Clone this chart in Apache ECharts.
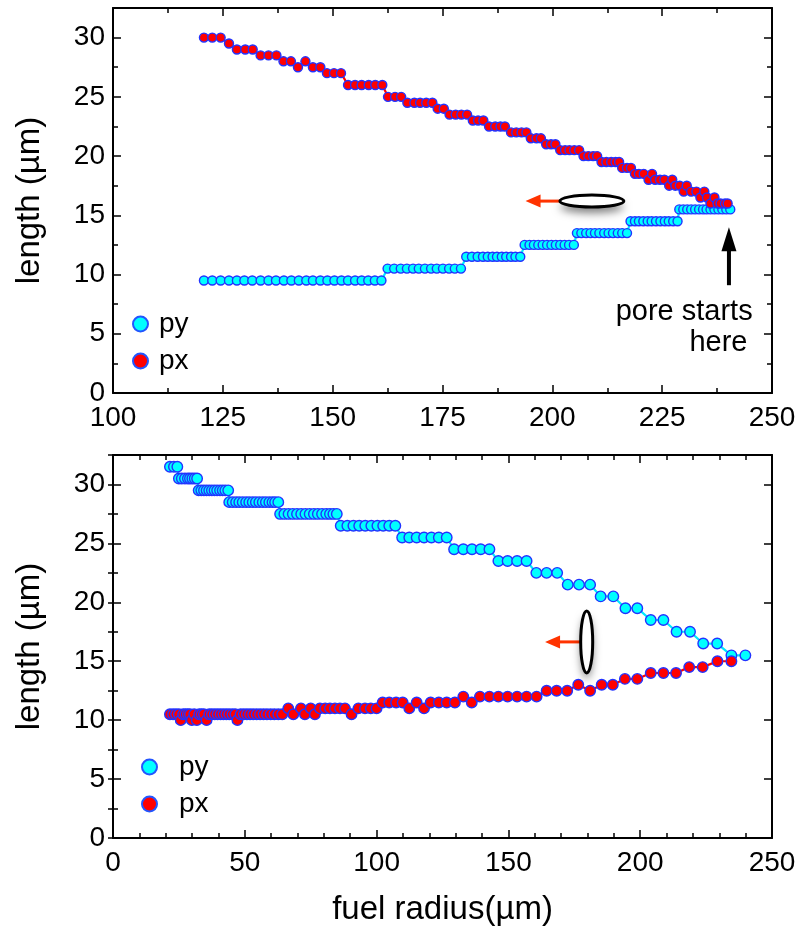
<!DOCTYPE html>
<html>
<head>
<meta charset="utf-8">
<script src="https://cdn.jsdelivr.net/npm/echarts@6/dist/echarts.min.js"></script>
<style>
html,body{margin:0;padding:0;background:#fff;}
#chart{width:801px;height:932px;}
</style>
</head>
<body>
<div id="chart"></div>
<script>
// ---------- DATA ----------
// Top panel: px series (x = fuel radius, y = length)
const topPxX = [120.7,122.6,124.5,126.4,128.2,130.1,131.8,133.6,135.4,137.2,138.8,140.5,142.1,143.8,145.5,147.2,148.7,150.3,151.9,153.5,155.1,156.6,158.2,159.7,161.3,162.6,164.2,165.6,167.0,168.6,169.9,171.3,172.7,173.9,175.3,176.6,178.0,179.3,180.6,181.9,183.1,184.3,185.6,187.0,188.2,189.2,190.6,191.8,193.0,194.1,195.1,196.4,197.4,198.6,199.7,200.7,201.8,202.9,203.9,205.0,206.1,207.1,208.2,209.3,210.2,211.2,212.3,213.4,214.4,215.2,215.9,217.0,217.9,218.8,219.7,220.8,221.9,222.7,223.4,224.5,225.5,226.6,227.3,228.0,229.0,229.9,230.6,231.6,232.8,233.7,234.6,235.2,236.0,236.9,237.6,238.3,239.3,239.9];
const topPxY = [30,30,30,29.5,29,29,29,28.5,28.5,28.5,28,28,27.5,28,27.5,27.5,27,27,27,26,26,26,26,26,26,25,25,25,24.5,24.5,24.5,24.5,24.5,24,24,23.5,23.5,23.5,23.5,23,23,23,22.5,22.5,22.5,22.5,22,22,22,22,21.5,21.5,21.5,21,21,21,20.5,20.5,20.5,20.5,20.5,20,20,20,20,19.5,19.5,19.5,19.5,19.5,19,19,19,18.5,18.5,18.5,18,18.5,18,18,18,17.5,18,17.5,17.5,17,17.5,17,17,16.5,17,16.5,16,16.5,16,16,16,16];

// Top panel: py series, one row of x values per length level
const topPyLevels = [9.5,10.5,11.5,12.5,13.5,14.5,15.5];
const topPyRows = [
  [120.7,122.6,124.5,126.4,128.2,129.9,131.7,133.6,135.4,137.1,138.9,140.6,142.3,144.0,145.5,147.2,148.8,150.4,152.0,153.5,155.1,156.6,158.1,159.6,161.1],
  [162.5,164.0,165.5,166.9,168.3,169.6,171.0,172.4,173.7,175.1,176.5,177.8,179.2],
  [180.4,181.7,183.0,184.2,185.3,186.4,187.4,188.5,189.5,190.6,191.6,192.7],
  [193.7,194.8,195.8,196.8,197.8,198.8,199.8,200.8,201.8,202.8,203.8,204.9],
  [205.6,206.6,207.7,208.7,209.7,210.7,211.8,212.8,213.8,214.9,215.9,217.0],
  [217.8,218.8,219.7,220.7,221.7,222.6,223.6,224.6,225.6,226.5,227.5,228.5],
  [228.9,229.8,230.7,231.6,232.5,233.4,234.3,235.1,236.0,236.9,237.8,238.7,239.6,240.5]
];

// Bottom panel: py series
const botPyLevels = [31.5,30.5,29.5,28.5,27.5,26.5,25.5,24.5,23.5,22.5,21.5,20.5,19.5,18.5,17.5,16.5,15.5];
const botPyRows = [
  [21.6,23.1,24.4],
  [25.0,26.1,27.3,28.4,29.2,30.1,31.0,31.9],
  [32.5,33.5,34.5,35.5,36.5,37.5,38.5,39.5,40.6,41.6,42.6,43.7],
  [44.1,45.4,46.7,47.9,49.2,50.5,51.7,53.0,54.2,55.5,56.8,58.0,59.3,60.5,61.5,62.7],
  [63.4,65.0,66.6,68.2,69.8,71.4,73.0,74.6,76.2,77.7,79.3,80.9,82.3,83.6,84.9],
  [86.4,88.9,91.2,93.4,95.7,98.0,100.3,102.5,104.8,107.1],
  [109.7,112.4,115.2,118.0,120.8,123.6,126.6],
  [129.4,132.9,136.2,139.5,142.8],
  [146.2,149.7,153.3,156.9],
  [160.6,164.5,168.5],
  [172.5,176.8,181.0],
  [185.0,189.8],
  [194.4,198.9],
  [204.0,208.8],
  [213.8,218.9],
  [223.9,229.2],
  [234.6,239.9]
];

// Bottom panel: px series
const botPxX = [21.6,22.8,23.9,25.0,25.7,26.6,27.5,28.4,29.2,29.9,30.8,31.8,32.7,33.6,34.5,35.5,36.5,37.5,38.6,39.7,40.8,41.9,43.0,44.1,45.3,46.4,47.2,48.4,49.6,50.8,52.0,53.2,54.5,55.8,57.1,58.4,59.8,61.2,62.7,64.2,66.5,68.4,71.3,72.8,75.0,76.6,78.5,80.5,82.3,84.2,86.1,88.0,90.5,93.1,95.6,97.8,100.0,102.3,104.8,107.4,109.9,112.4,115.2,118.0,120.5,123.6,126.6,129.7,132.9,136.1,139.2,142.8,146.2,149.7,153.3,156.9,160.7,164.5,168.3,172.3,176.5,181.0,185.4,189.6,194.2,198.9,204.0,208.8,213.6,218.6,223.7,229.3,234.6];
const botPxY = [10.5,10.5,10.5,10.5,10,10.5,10.5,10.5,10.5,10,10.5,10,10.5,10.5,10.5,10,10.5,10.5,10.5,10.5,10.5,10.5,10.5,10.5,10.5,10.5,10,10.5,10.5,10.5,10.5,10.5,10.5,10.5,10.5,10.5,10.5,10.5,10.5,10.5,11,10.5,11,10.5,11,10.5,11,11,11,11,11,11,10.5,11,11,11,11,11.5,11.5,11.5,11.5,11,11.5,11,11.5,11.5,11.5,11.5,12,11.5,12,12,12,12,12,12,12,12.5,12.5,12.5,13,12.5,13,13,13.5,13.5,14,14,14,14.5,14.5,15,15];

// Axis ranges / tick settings
const topXRange = [100, 250], topXInterval = 25;
const botXRange = [0, 250], botXInterval = 50;
const yRange = [0, 32.5], yInterval = 5;

// Annotation anchors (data coordinates)
const topEllipse = [209.0, 16.2];
const topArrow = {from: [201.8, 16.2], to: [193.9, 16.2]};
const poreArrow = {from: [240.2, 9.1], to: [240.2, 14.0]};
const poreText = [{t: 'pore starts', at: [230.0, 6.82]}, {t: 'here', at: [237.8, 4.21]}];
const botEllipse = [179.7, 16.64];
const botArrow = {from: [177.2, 16.64], to: [163.9, 16.64]};

// ---------- CHART ----------
const FONT = '"Liberation Sans", Arial, Helvetica, sans-serif';
const BLACK = '#000';
const chart = echarts.init(document.getElementById('chart'), null, {renderer: 'canvas'});

function rowsToData(levels, rows) {
  const out = [];
  rows.forEach((r, i) => r.forEach(x => out.push([x, levels[i]])));
  return out;
}
function zipData(xs, ys) { return xs.map((x, i) => [x, ys[i]]); }

function xAxes(gi, range, interval, minorSplit, name) {
  const common = {
    gridIndex: gi, type: 'value', min: range[0], max: range[1], interval: interval,
    axisLine: {show: true, onZero: false, lineStyle: {color: BLACK, width: 2}},
    axisTick: {show: true, inside: true, length: 8, lineStyle: {color: BLACK, width: 1.5}},
    minorTick: {show: true, splitNumber: minorSplit, length: 5, lineStyle: {color: BLACK, width: 1.5}},
    splitLine: {show: false}, minorSplitLine: {show: false}
  };
  const bottom = Object.assign({}, common, {
    position: 'bottom',
    axisLabel: {show: true, fontSize: 28, color: BLACK, fontFamily: FONT, margin: 11}
  });
  if (name) {
    Object.assign(bottom, {name: name, nameLocation: 'middle', nameGap: 55,
      nameTextStyle: {fontSize: 33, color: BLACK, fontFamily: FONT}});
  }
  const top = Object.assign({}, common, {position: 'top', axisLabel: {show: false}});
  return [bottom, top];
}

function yAxes(gi) {
  const line = {show: true, onZero: false, lineStyle: {color: BLACK, width: 2}};
  const major = {
    gridIndex: gi, type: 'value', min: yRange[0], max: yRange[1], interval: yInterval,
    axisLine: line,
    axisTick: {show: true, inside: true, length: 8, lineStyle: {color: BLACK, width: 1.5}},
    splitLine: {show: false}
  };
  const minor = {
    gridIndex: gi, type: 'value', min: yRange[0], max: yRange[1], interval: yInterval / 2,
    axisLine: {show: false},
    axisTick: {show: true, inside: true, length: 5, lineStyle: {color: BLACK, width: 1.5}},
    axisLabel: {show: false}, splitLine: {show: false}
  };
  return [
    Object.assign({}, major, {position: 'left',
      axisLabel: {show: true, fontSize: 28, color: BLACK, fontFamily: FONT, margin: 8, showMaxLabel: false},
      name: 'length (µm)', nameLocation: 'middle', nameGap: 67, nameRotate: 90,
      nameTextStyle: {fontSize: 33, color: BLACK, fontFamily: FONT}}),
    Object.assign({}, minor, {position: 'left'}),
    Object.assign({}, major, {position: 'right', axisLabel: {show: false}}),
    Object.assign({}, minor, {position: 'right'})
  ];
}

function pyStyle(size) {
  return {
    symbol: 'circle', symbolSize: size,
    itemStyle: {color: '#00ffff', borderColor: '#2233ff', borderWidth: 1.4},
    lineStyle: {color: '#00e8ff', width: 2.2}
  };
}
function pxStyle(size) {
  return {
    symbol: 'circle', symbolSize: size,
    itemStyle: {color: '#ff0000', borderColor: '#2233ff', borderWidth: 1.4},
    lineStyle: {color: '#ff0000', width: 2.2}
  };
}

function legend(left, top, pad) {
  return {
    data: ['py', 'px'], orient: 'vertical', left: left, top: top, padding: 0,
    icon: 'circle', itemWidth: 15, itemHeight: 15, itemGap: 9,
    selectedMode: false,
    itemStyle: {borderColor: '#2255ff', borderWidth: 2},
    textStyle: {fontSize: 28, color: BLACK, fontFamily: FONT, padding: [0, 0, 0, pad]}
  };
}

const option = {
  animation: false,
  backgroundColor: '#fff',
  grid: [
    {left: 113, top: 8, width: 659, height: 385},
    {left: 113, top: 455, width: 659, height: 383}
  ],
  legend: [legend(132, 310, 6), legend(141, 753, 17)],
  xAxis: [].concat(
    xAxes(0, topXRange, topXInterval, 2, null),
    xAxes(1, botXRange, botXInterval, 5, 'fuel radius(µm)')
  ),
  yAxis: [].concat(yAxes(0), yAxes(1)),
  series: [
    Object.assign({name: 'py', type: 'line', xAxisIndex: 0, yAxisIndex: 0,
      data: rowsToData(topPyLevels, topPyRows)}, pyStyle(9)),
    Object.assign({name: 'px', type: 'line', xAxisIndex: 0, yAxisIndex: 0,
      data: zipData(topPxX, topPxY)}, pxStyle(9)),
    Object.assign({name: 'py', type: 'line', xAxisIndex: 2, yAxisIndex: 4,
      data: rowsToData(botPyLevels, botPyRows)}, pyStyle(10.5)),
    Object.assign({name: 'px', type: 'line', xAxisIndex: 2, yAxisIndex: 4,
      data: zipData(botPxX, botPxY)}, pxStyle(10.5))
  ]
};
chart.setOption(option);

// ---------- ANNOTATIONS (anchored through the axes) ----------
function px(gi, p) { return chart.convertToPixel({gridIndex: gi}, p); }

function arrow(a, b, color, shaftW, headL, headW) {
  const dx = b[0] - a[0], dy = b[1] - a[1];
  const len = Math.sqrt(dx * dx + dy * dy);
  const ux = dx / len, uy = dy / len;
  const nx = -uy, ny = ux;
  const base = [b[0] - ux * headL, b[1] - uy * headL];
  return [
    {type: 'line', shape: {x1: a[0], y1: a[1], x2: base[0] + ux, y2: base[1] + uy},
     style: {stroke: color, lineWidth: shaftW}, z: 10},
    {type: 'polygon', shape: {points: [
      [b[0], b[1]],
      [base[0] + nx * headW / 2, base[1] + ny * headW / 2],
      [base[0] - nx * headW / 2, base[1] - ny * headW / 2]
    ]}, style: {fill: color}, z: 10}
  ];
}

function ellipse(c, rx, ry) {
  return [
    {type: 'ellipse', shape: {cx: c[0], cy: c[1], rx: rx, ry: ry}, z: 11,
     style: {fill: '#fff', shadowBlur: 9, shadowOffsetX: 0, shadowOffsetY: 6, shadowColor: 'rgba(0,0,0,0.5)'}},
    {type: 'ellipse', shape: {cx: c[0], cy: c[1], rx: rx, ry: ry}, z: 12,
     style: {fill: '#fff', stroke: '#000', lineWidth: 3}}
  ];
}

let g = [];
g = g.concat(arrow(px(0, topArrow.from), px(0, topArrow.to), '#ff3300', 3, 15, 13));
g = g.concat(ellipse(px(0, topEllipse), 32, 6));
g = g.concat(arrow(px(0, poreArrow.from), px(0, poreArrow.to), '#000', 4, 24, 15));
poreText.forEach(o => {
  const p = px(0, o.at);
  g.push({type: 'text', x: p[0], y: p[1], z: 12,
    style: {text: o.t, fill: '#000', font: '29px ' + FONT, align: 'center', verticalAlign: 'middle'}});
});
g = g.concat(arrow(px(1, botArrow.from), px(1, botArrow.to), '#ff3300', 3, 15, 13));
g = g.concat(ellipse(px(1, botEllipse), 6, 31));
chart.setOption({graphic: g});
</script>
</body>
</html>
